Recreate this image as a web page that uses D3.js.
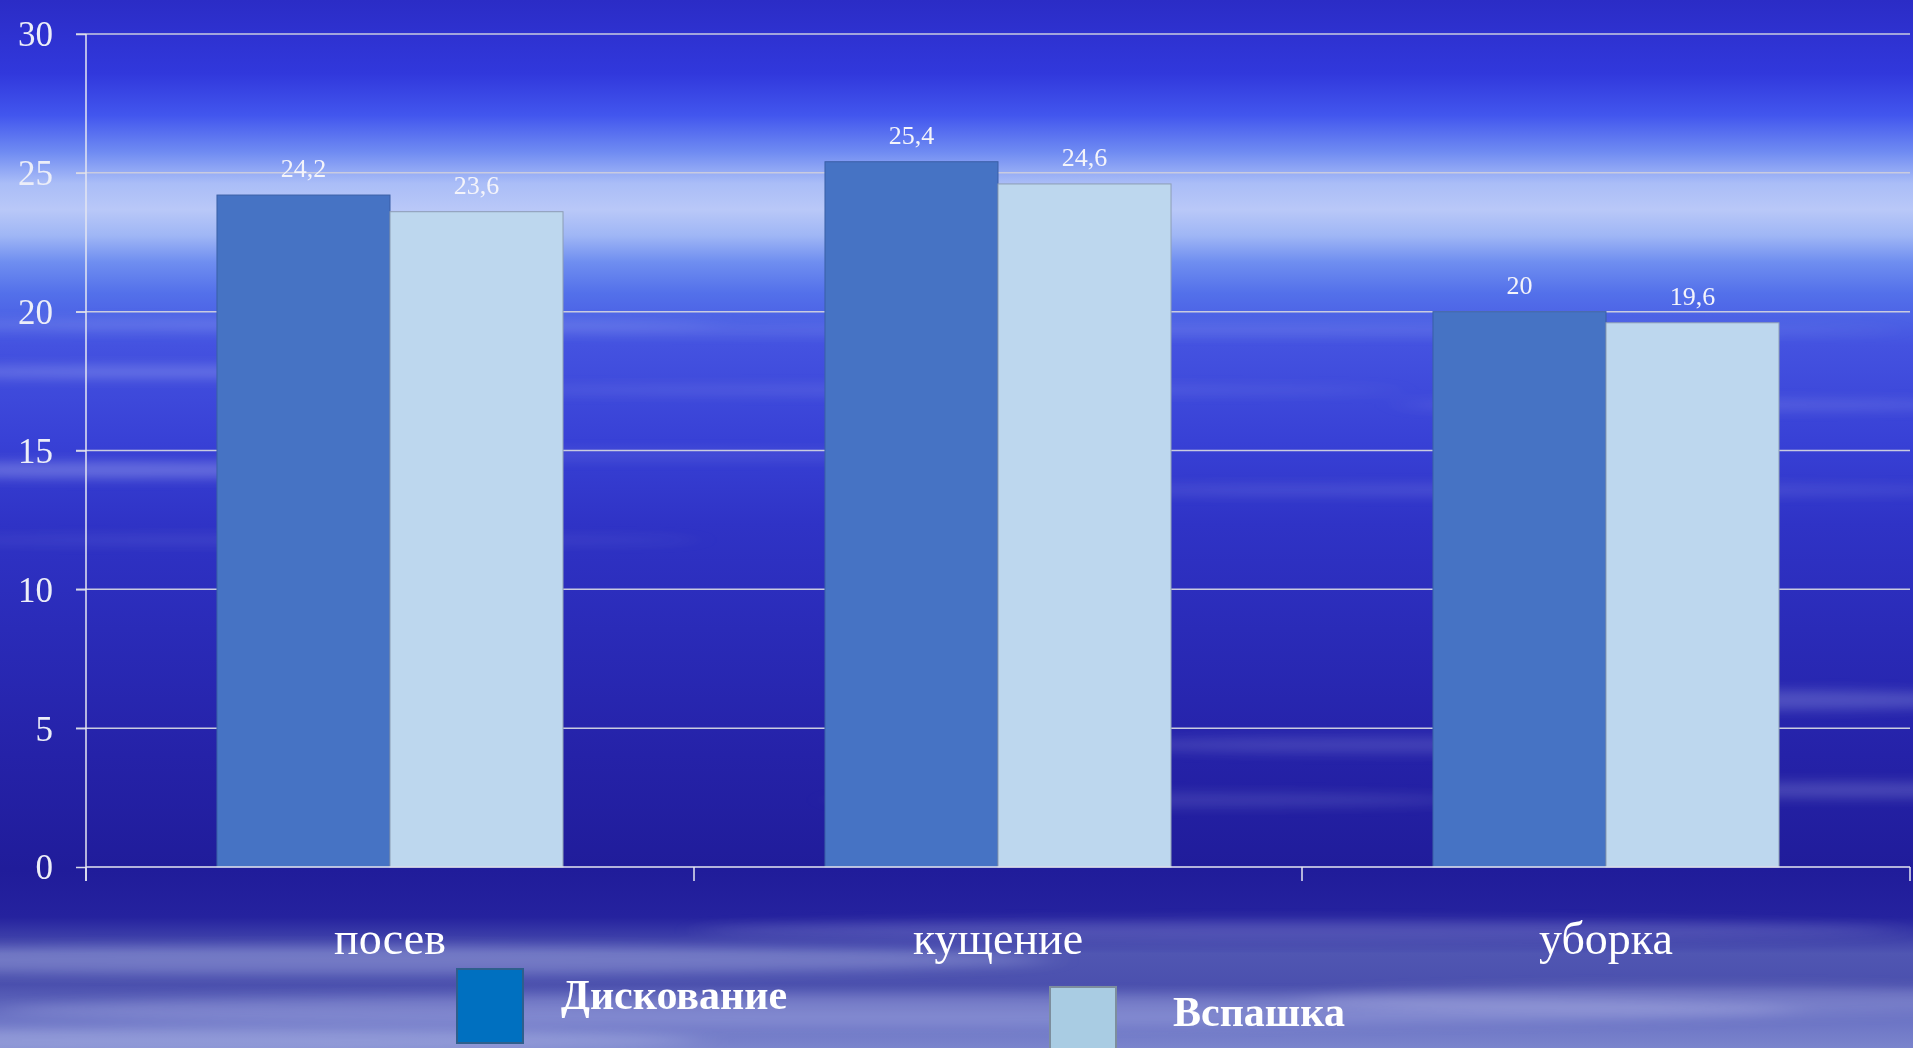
<!DOCTYPE html>
<html>
<head>
<meta charset="utf-8">
<script src="https://cdn.jsdelivr.net/npm/d3@7"></script>
<style>
  html, body { margin: 0; padding: 0; background: #2222aa; overflow: hidden; }
  svg { display: block; }
  .axis text { font-family: "Liberation Serif", "Times New Roman", serif; }
</style>
</head>
<body>
<div id="chart"></div>
<script>
// ---- data ----
const categories = ["посев", "кущение", "уборка"];
const seriesNames = ["Дискование", "Вспашка"];
const diskValues = [24.2, 25.4, 20];
const plowValues = [23.6, 24.6, 19.6];
const yTicks = [0, 5, 10, 15, 20, 25, 30];

const width = 1913, height = 1048;
const margin = {top: 34, right: 3, bottom: 181, left: 86};

const barColors = ["#4673c4", "#bdd7ee"];
const barStroke = ["#3a5fa6", "#8c9db4"];
const legendColors = ["#0070c0", "#a9cce3"];
const legendStroke = ["#2e5f8c", "#7d8e9e"];

const rows = categories.map((c, i) => ({cat: c, values: [diskValues[i], plowValues[i]]}));

const ru = d3.formatLocale({decimal: ",", thousands: " ", grouping: [3], currency: ["", ""]});
const fmt = v => ru.format("~g")(v);

const svg = d3.select("#chart").append("svg")
    .attr("width", width)
    .attr("height", height);

// ---- background: sky / water gradient ----
const defs = svg.append("defs");
const grad = defs.append("linearGradient")
    .attr("id", "bg").attr("x1", 0).attr("y1", 0).attr("x2", 0).attr("y2", 1);
[
  [0, "#2b2cc6"], [0.07, "#3138dc"], [0.11, "#4256ee"], [0.145, "#6f8bf2"],
  [0.175, "#aabdf7"], [0.2, "#b9c8f8"], [0.225, "#9fb6f5"], [0.25, "#6f8ef0"],
  [0.28, "#5370ea"], [0.33, "#4452e0"], [0.42, "#3841d6"], [0.5, "#2f33c6"],
  [0.6, "#2a2bb8"], [0.72, "#2522a8"], [0.83, "#201c9a"], [0.875, "#25229e"],
  [0.91, "#5056b2"], [0.94, "#4b50ae"], [0.97, "#6a72c4"], [1, "#7a84cc"]
].forEach(([o, c]) => grad.append("stop").attr("offset", o).attr("stop-color", c));

svg.append("rect").attr("width", width).attr("height", height).attr("fill", "url(#bg)");

defs.append("filter").attr("id", "blur").attr("x", "-20%").attr("y", "-300%")
    .attr("width", "140%").attr("height", "700%")
  .append("feGaussianBlur").attr("stdDeviation", "18 6");

// decorative streaks of the backdrop picture
const streaks = [
  [300, 325, 420, 5, 0.2], [1200, 330, 700, 4, 0.16], [150, 372, 300, 6, 0.25],
  [900, 390, 500, 4, 0.15], [1700, 405, 300, 5, 0.18], [120, 470, 260, 8, 0.3],
  [650, 455, 420, 4, 0.14], [1500, 490, 500, 5, 0.15], [300, 540, 400, 4, 0.12],
  [1750, 700, 260, 10, 0.22], [1400, 745, 300, 8, 0.16], [1850, 790, 200, 8, 0.2],
  [1150, 800, 320, 7, 0.14], [350, 960, 700, 14, 0.25], [1300, 930, 600, 10, 0.16],
  [900, 1010, 900, 16, 0.2], [1700, 1000, 400, 14, 0.2], [200, 1040, 500, 12, 0.25]
];
svg.append("g").attr("filter", "url(#blur)")
  .selectAll("ellipse").data(streaks).join("ellipse")
    .attr("cx", d => d[0]).attr("cy", d => d[1])
    .attr("rx", d => d[2]).attr("ry", d => d[3])
    .attr("fill", "#dfe6ff").attr("opacity", d => d[4]);

// ---- scales ----
const x0 = d3.scaleBand()
    .domain(categories)
    .range([margin.left, width - margin.right])
    .padding(0);

const x1 = d3.scaleBand()
    .domain(d3.range(seriesNames.length))
    .range([0, x0.bandwidth()])
    .paddingInner(0)
    .paddingOuter(0.757);

const y = d3.scaleLinear()
    .domain([0, 30])
    .range([height - margin.bottom, margin.top]);

const g = svg.append("g");

// gridlines
g.append("g").attr("class", "grid")
  .selectAll("line").data(yTicks.filter(t => t > 0)).join("line")
    .attr("x1", margin.left - 10).attr("x2", width - margin.right)
    .attr("y1", d => y(d)).attr("y2", d => y(d))
    .attr("stroke", "#c9cbe0").attr("stroke-width", 1.5);

// bars
const groups = g.selectAll(".cat")
    .data(rows)
    .join("g")
    .attr("class", "cat")
    .attr("transform", d => "translate(" + x0(d.cat) + ",0)");

groups.selectAll("rect")
    .data(d => d.values.map((v, i) => ({v, i})))
    .join("rect")
    .attr("x", d => x1(d.i))
    .attr("y", d => y(d.v))
    .attr("width", x1.bandwidth())
    .attr("height", d => y(0) - y(d.v))
    .attr("fill", d => barColors[d.i])
    .attr("stroke", d => barStroke[d.i])
    .attr("stroke-width", 1);

// value labels
groups.selectAll("text.val")
    .data(d => d.values.map((v, i) => ({v, i})))
    .join("text")
    .attr("class", "val")
    .attr("x", d => x1(d.i) + x1.bandwidth() / 2)
    .attr("y", d => y(d.v) - 18)
    .attr("text-anchor", "middle")
    .attr("fill", "#f4f4fa")
    .style("font-family", "'Liberation Serif', 'Times New Roman', serif")
    .style("font-size", "26px")
    .text(d => fmt(d.v));

// y axis
const yAxis = d3.axisLeft(y).tickValues(yTicks).tickSize(10).tickPadding(23)
    .tickFormat(d3.format("d"));
const yG = g.append("g").attr("class", "axis y-axis")
    .attr("transform", "translate(" + margin.left + ",0)")
    .call(yAxis);
yG.select(".domain").remove();
yG.append("line")
    .attr("x1", 0).attr("x2", 0)
    .attr("y1", y(30)).attr("y2", y(0) + 14)
    .attr("stroke", "#e4e6f2").attr("stroke-width", 1.5);
yG.selectAll(".tick line").attr("stroke", "#d8dae8").attr("stroke-width", 1.5);
yG.selectAll(".tick text")
    .attr("fill", "#eceef8")
    .style("font-size", "35px")
    .attr("dy", "0.34em");

// x axis
const xG = g.append("g").attr("class", "axis x-axis");
xG.append("line")
    .attr("x1", margin.left).attr("x2", width - margin.right)
    .attr("y1", y(0)).attr("y2", y(0))
    .attr("stroke", "#e4e6f2").attr("stroke-width", 1.5);
const edges = categories.map(c => x0(c)).concat([x0.range()[1]]);
xG.selectAll("line.tk").data(edges).join("line")
    .attr("class", "tk")
    .attr("x1", d => d).attr("x2", d => d)
    .attr("y1", y(0)).attr("y2", y(0) + 14)
    .attr("stroke", "#e4e6f2").attr("stroke-width", 1.5);
xG.selectAll("text").data(categories).join("text")
    .attr("x", d => x0(d) + x0.bandwidth() / 2)
    .attr("y", y(0) + 87)
    .attr("text-anchor", "middle")
    .attr("fill", "#ffffff")
    .style("font-size", "46px")
    .text(d => d);

// legend
const legendPos = [[457, 969, 561, 1009], [1050, 987, 1173, 1026]];
const legend = svg.append("g").attr("class", "legend")
  .selectAll("g").data(seriesNames).join("g");
legend.append("rect")
    .attr("x", (d, i) => legendPos[i][0])
    .attr("y", (d, i) => legendPos[i][1])
    .attr("width", 66).attr("height", 74)
    .attr("fill", (d, i) => legendColors[i])
    .attr("stroke", (d, i) => legendStroke[i])
    .attr("stroke-width", 2);
legend.append("text")
    .attr("x", (d, i) => legendPos[i][2])
    .attr("y", (d, i) => legendPos[i][3])
    .attr("fill", "#ffffff")
    .style("font-family", "'Liberation Serif', 'Times New Roman', serif")
    .style("font-weight", "bold")
    .style("font-size", "42px")
    .text(d => d);
</script>
</body>
</html>
